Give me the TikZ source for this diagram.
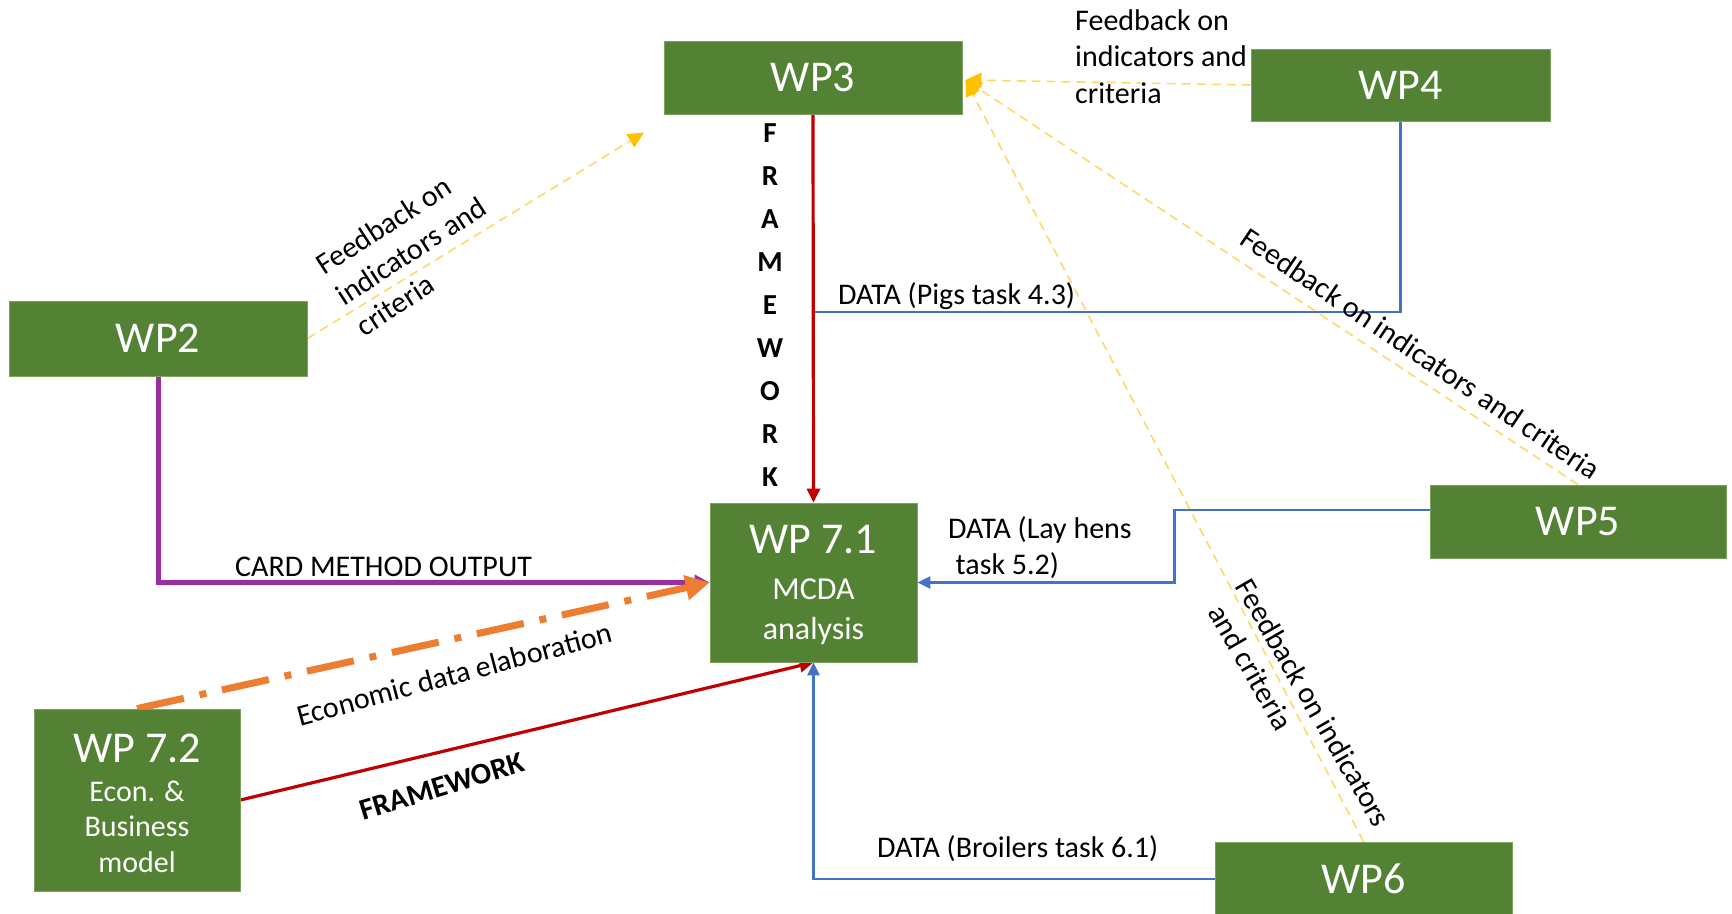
\documentclass[tikz,border=0pt]{standalone}
\usepackage{fontspec}
\setmainfont{Carlito}
\usetikzlibrary{arrows.meta,calc}

\definecolor{wpgreen}{HTML}{548235}
\definecolor{wpedge}{HTML}{7DA35F}
\definecolor{fwred}{HTML}{C00000}
\definecolor{datablue}{HTML}{4472C4}
\definecolor{cardpurple}{HTML}{9A2FA0}
\definecolor{econorange}{HTML}{ED7D31}
\definecolor{fbline}{HTML}{FFD966}
\definecolor{fbtip}{HTML}{FFC000}

\pgfdeclarelayer{canvas}
\pgfdeclarelayer{links}
\pgfsetlayers{canvas,links,main}

\begin{document}
\begin{tikzpicture}[x=1pt,y=-1pt,
  wpbox/.style={fill=wpgreen,draw=wpedge,line width=0.8pt,text=white,inner sep=0pt,align=center},
  wpfont/.style={font=\fontsize{44}{53}\selectfont},
  lbl/.style={inner sep=0pt,font=\fontsize{30}{36.5}\selectfont,text=black},
  fwlink/.style={draw=fwred,line width=3.2pt,-{Triangle[length=14pt,width=13pt]}},
  datalink/.style={draw=datablue,line width=2.4pt},
  dataarrow/.style={datalink,-{Triangle[length=13pt,width=12pt]}},
  cardlink/.style={draw=cardpurple,line width=5pt,-{Triangle[length=15pt,width=15pt]}},
  econlink/.style={draw=econorange,line width=7pt,dash pattern=on 48pt off 16pt on 7pt off 16pt,-{Triangle[length=24pt,width=24pt]}},
  fblink/.style={draw=fbline,line width=1.6pt,dash pattern=on 9pt off 6pt,-{Triangle[length=16pt,width=15pt,color=fbtip]}}
]
\begin{pgfonlayer}{canvas}
  \fill[white] (0,0) rectangle (1732,913);
\end{pgfonlayer}
\useasboundingbox (0,0) rectangle (1732,913);

% work package boxes
\node[wpbox,wpfont,minimum width=298pt,minimum height=73pt] (wp3) at (813,77.5) {WP3};
\node[wpbox,wpfont,minimum width=299pt,minimum height=72pt] (wp4) at (1400.5,85) {WP4};
\node[wpbox,wpfont,minimum width=298pt,minimum height=75pt] (wp2) at (158,338.5) {WP2};
\node[wpbox,wpfont,minimum width=296pt,minimum height=73pt] (wp5) at (1578,521.5) {WP5};
\node[wpbox,wpfont,minimum width=297pt,minimum height=74pt] (wp6) at (1363.5,879) {WP6};
\node[wpbox,font=\fontsize{32}{40}\selectfont,minimum width=207pt,minimum height=159pt] (wp71) at (813.5,582.5)
  {{\fontsize{44}{50}\selectfont\rule{0pt}{33.5pt}WP 7.1}\\[6pt]MCDA\\analysis};
\node[wpbox,font=\fontsize{30}{35.5}\selectfont,minimum width=206pt,minimum height=182pt] (wp72) at (137,800)
  {{\fontsize{44}{50}\selectfont\rule{0pt}{35.5pt}WP 7.2}\\[3pt]Econ. \&\\Business\\model};

% labels
\node[lbl,anchor=base west] (lcard) at (235,576.5) {CARD METHOD OUTPUT};
\node[lbl,anchor=base west] (lpigs) at (838,304.5) {DATA (Pigs task 4.3)};
\node[lbl,anchor=north west,align=left] (lhens) at (948,516) {DATA (Lay hens\\\hspace{0.25em}task 5.2)};
\node[lbl,anchor=base west] (lbroil) at (877,857.7) {DATA (Broilers task 6.1)};
\node[lbl,anchor=north west,align=left] (lfb4) at (1075,9) {Feedback on\\indicators and\\criteria};
\node[lbl,align=left,rotate=33] (lfb2) at (411,251) {Feedback on\\indicators and\\criteria};
\node[lbl,rotate=-34] (lfb5) at (1421,353.5) {Feedback on indicators and criteria};
\node[lbl,align=left,rotate=-60] (lfb6) at (1298,712) {Feedback on indicators\\\hspace{0.27em}and criteria};
\node[lbl,rotate=15] (lecon) at (454.5,674) {Economic data elaboration};
\node[lbl,font=\bfseries\fontsize{30}{36}\selectfont,rotate=17] (lfw) at (442,786.5) {FRAMEWORK};
\node[lbl,font=\bfseries\fontsize{29}{43.1}\selectfont,align=center] (lfwv) at (770,305) {F\\R\\A\\M\\E\\W\\O\\R\\K};

% connectors
\coordinate (j4) at ($(wp3.south)+(0,197.5)$);
\coordinate (p5) at ($(wp5.west)+(0,-11.5)$);
\coordinate (fb3) at ($(wp3.east)+(3,2.5)$);
\coordinate (fb2tip) at (644,132.5);
\begin{pgfonlayer}{links}
  \draw[fblink] (wp2.east) -- (fb2tip);
  \draw[fblink] (wp4.west) -- (fb3);
  \draw[fblink] (wp5.north) -- (fb3);
  \draw[fblink] (wp6.north) -- (fb3);
  \draw[datalink] (wp4.south) |- (j4);
  \draw[dataarrow] (p5) -- ++(-255,0) |- (wp71.east);
  \draw[dataarrow] (wp6.west) -| (wp71.south);
  \draw[fwlink] (wp3.south) -- (wp71.north);
  \draw[fwlink] (wp72.east) -- (wp71.south);
  \draw[cardlink] (wp2.south) |- (wp71.west);
  \draw[econlink] (wp72.north) -- (wp71.west);
\end{pgfonlayer}
\end{tikzpicture}
\end{document}
